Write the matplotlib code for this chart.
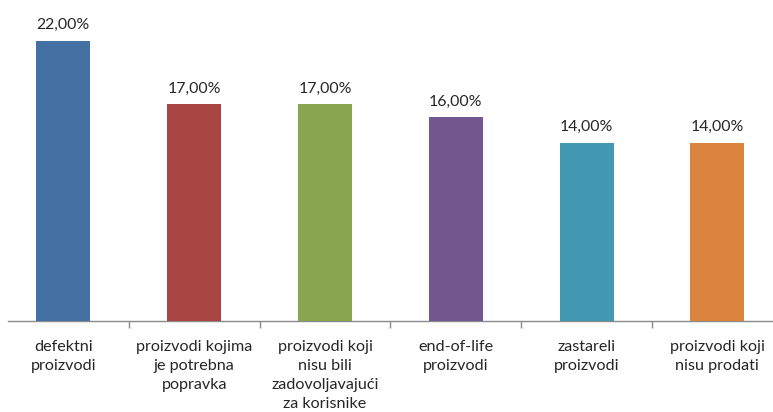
import matplotlib
matplotlib.use("Agg")
import matplotlib.pyplot as plt
import numpy as np

categories = [
    "defektni\nproizvodi",
    "proizvodi kojima\nje potrebna\npopravka",
    "proizvodi koji\nnisu bili\nzadovoljavajući\nza korisnike",
    "end-of-life\nproizvodi",
    "zastareli\nproizvodi",
    "proizvodi koji\nnisu prodati",
]
values = [22.0, 17.0, 17.0, 16.0, 14.0, 14.0]
value_labels = ["22,00%", "17,00%", "17,00%", "16,00%", "14,00%", "14,00%"]
colors = ["#4470A4", "#A94543", "#89A54F", "#72568F", "#4299B1", "#DB843D"]

plt.rcParams['font.family'] = ['Lato', 'DejaVu Sans']

W, H = 773, 412
fig = plt.figure(figsize=(W / 100, H / 100), dpi=100)
cat_px = 130.8
base_y = 321
ymax = 25
unit_px = 12.75
ax = fig.add_axes([0, (H - base_y) / H, 1, ymax * unit_px / H])
x = np.arange(len(values))
ax.bar(x, values, width=54 / cat_px, color=colors, zorder=3)
ax.set_xlim(-0.5 + 2 / cat_px, -0.5 + 775 / cat_px)
ax.set_ylim(0, ymax)

for xi, v, lab in zip(x, values, value_labels):
    ax.annotate(lab, (xi, v), xytext=(0, 8), textcoords="offset points",
                ha="center", va="baseline", fontsize=11.4, color="#262626")

for s in ["top", "right", "left"]:
    ax.spines[s].set_visible(False)
ax.spines["bottom"].set_color("#8a8a8a")
ax.spines["bottom"].set_linewidth(1.0)
ax.spines["bottom"].set_bounds(-0.5 + 10 / cat_px, 6)
ax.set_yticks([])
ax.set_xticks(x)
ax.set_xticklabels(categories, fontsize=11.6, color="#262626", linespacing=1.43)
ax.tick_params(axis="x", which="major", length=0, pad=14)
ax.set_xticks(np.arange(0.5, 5.0, 1.0), minor=True)
ax.tick_params(axis="x", which="minor", length=5, color="#8a8a8a", width=1)

fig.savefig("out.png", dpi=100)
